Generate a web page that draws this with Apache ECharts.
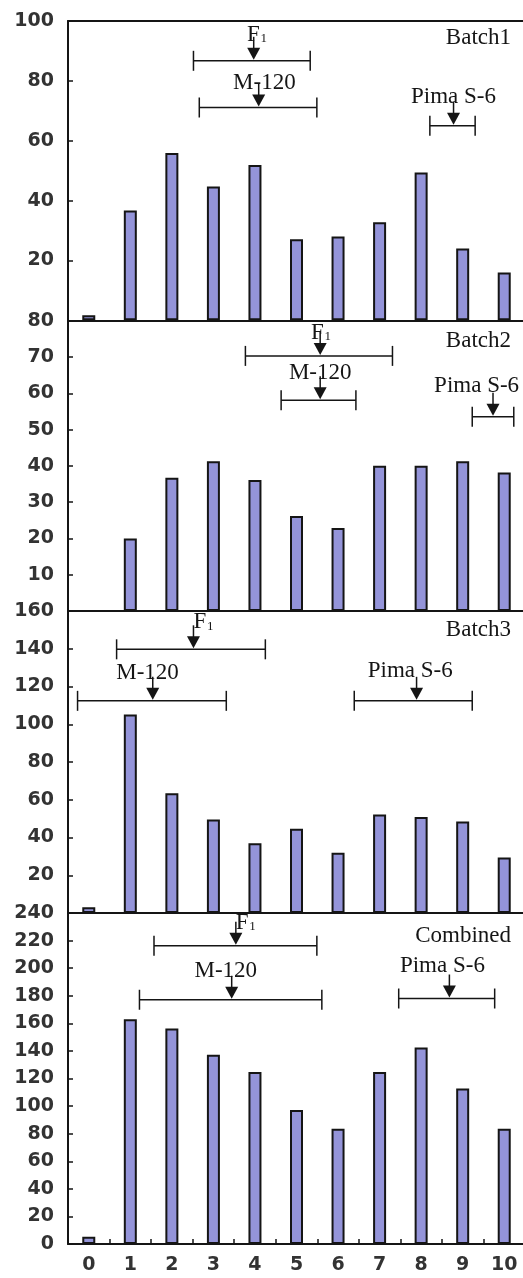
<!DOCTYPE html>
<html>
<head>
<meta charset="utf-8">
<script src="https://cdn.jsdelivr.net/npm/echarts@6/dist/echarts.min.js"></script>
<style>
  html, body { margin: 0; padding: 0; background: #fff; }
  #chart { width: 523px; height: 1278px; }
</style>
</head>
<body>
<div id="chart"></div>
<script>
// classes on the x axis
var categories = ["0", "1", "2", "3", "4", "5", "6", "7", "8", "9", "10"];

// bar heights per panel
var batch1 = [1.7, 36.7, 55.9, 44.7, 51.9, 27.1, 28, 32.8, 49.4, 24, 16];
var batch2 = [null, 20, 36.7, 41.3, 36.1, 26.2, 22.9, 40, 40, 41.3, 38.2];
var batch3 = [3, 105.1, 63.5, 49.5, 37, 44.6, 31.9, 52.2, 50.8, 48.5, 29.4];
var combined = [5.3, 163, 156.3, 137.2, 124.8, 97.2, 83.5, 124.8, 142.5, 112.7, 83.5];

var panelNames = ["Batch1", "Batch2", "Batch3", "Combined"];
var yMax = [100, 80, 160, 240];
var yStep = [20, 10, 20, 20];

// parent / F1 ranges: [low, mean, high, height] in class units
var intervalNames = ["F1", "M-120", "Pima S-6"];
var intervals1 = [[2.52, 3.97, 5.33, 86.7], [2.66, 4.09, 5.49, 71.1], [8.21, 8.78, 9.30, 65]];
var intervals2 = [[3.77, 5.57, 7.31, 70.3], [4.63, 5.57, 6.43, 58.1], [9.23, 9.73, 10.23, 53.5]];
var intervals3 = [[0.67, 2.52, 4.25, 139.7], [-0.27, 1.54, 3.31, 112.4], [6.39, 7.89, 9.23, 112.4]];
var intervals4 = [[1.57, 3.54, 5.49, 216.3], [1.22, 3.44, 5.61, 177.1], [7.46, 8.68, 9.77, 178]];

var bars = [batch1, batch2, batch3, combined];
var intervals = [intervals1, intervals2, intervals3, intervals4];

// layout
var panelTop = [21, 320.7, 611, 913];
var panelHeight = [299.3, 290.3, 302, 331];
var nameDy = [17.3, 19.8, 18.5, 23];
// label offsets from the arrow [dx, dy]
var labelOffsets = [
  [[-6.7, -26], [5.7, -24.7], [0, -29]],
  [[-9.3, -23], [0, -27.5], [-16.4, -31]],
  [[0, -27], [-5.2, -27.7], [-6.3, -30]],
  [[0, -23], [-5.9, -29], [-7, -32.7]]
];

var serif = '"Liberation Serif", "Times New Roman", serif';
var ink = "#151515";

var grids = [], xAxes = [], yAxes = [], series = [], graphics = [];

panelTop.forEach(function (top, i) {
  var last = i === panelTop.length - 1;
  grids.push({ left: 68, width: 457, top: top, height: panelHeight[i],
    containLabel: false, outerBoundsMode: "none" });

  xAxes.push({
    type: "category", gridIndex: i, data: categories, boundaryGap: true,
    axisLine: { show: true, onZero: false, lineStyle: { color: ink, width: 2 } },
    axisTick: { show: last, inside: true, length: 5, interval: 0, lineStyle: { color: ink, width: 1.5 } },
    axisLabel: { show: last, margin: 12, fontSize: 19, fontWeight: "bold",
      fontFamily: "DejaVu Sans", color: "#333", interval: 0 }
  });
  // helper axis for continuous positions of the ranges (also draws the top frame of panel 1)
  xAxes.push({
    type: "value", gridIndex: i, min: -0.5, max: 10.5, position: "top",
    show: i === 0,
    axisLine: { show: true, onZero: false, lineStyle: { color: ink, width: 2 } },
    axisTick: { show: false }, axisLabel: { show: false }, splitLine: { show: false }
  });

  yAxes.push({
    type: "value", gridIndex: i, min: 0, max: yMax[i], interval: yStep[i],
    axisLine: { show: true, onZero: false, lineStyle: { color: ink, width: 2 } },
    axisTick: { show: true, inside: true, length: 5, lineStyle: { color: ink, width: 1.5 } },
    splitLine: { show: false },
    axisLabel: { showMinLabel: last, margin: 14, fontSize: 19, fontWeight: "bold",
      fontFamily: "DejaVu Sans", color: "#333" }
  });

  series.push({
    type: "bar", xAxisIndex: 2 * i, yAxisIndex: i, data: bars[i],
    barWidth: 13,
    itemStyle: { color: "#9494d9", borderColor: ink, borderWidth: 2 },
    silent: true
  });

  series.push({
    type: "custom", xAxisIndex: 2 * i + 1, yAxisIndex: i, data: intervals[i],
    encode: { x: [0, 1, 2], y: 3 }, clip: false, silent: true, z: 5,
    renderItem: function (params, api) {
      var k = params.dataIndex;
      var y = api.value(3);
      var a = api.coord([api.value(0), y]);
      var m = api.coord([api.value(1), y]);
      var b = api.coord([api.value(2), y]);
      var off = labelOffsets[i][k];
      var st = { stroke: ink, lineWidth: 1.5 };
      var kids = [
        { type: "line", shape: { x1: a[0], y1: a[1], x2: b[0], y2: b[1] }, style: st },
        { type: "line", shape: { x1: a[0], y1: a[1] - 10, x2: a[0], y2: a[1] + 10 }, style: st },
        { type: "line", shape: { x1: b[0], y1: b[1] - 10, x2: b[0], y2: b[1] + 10 }, style: st },
        { type: "line", shape: { x1: m[0], y1: m[1] - 24, x2: m[0], y2: m[1] - 11 }, style: st },
        { type: "polygon", shape: { points: [[m[0] - 6.5, m[1] - 13], [m[0] + 6.5, m[1] - 13], [m[0], m[1] - 1]] },
          style: { fill: ink } }
      ];
      var name = intervalNames[k];
      if (name === "F1") {
        kids.push({ type: "text", x: m[0] + off[0], y: m[1] + off[1],
          style: { text: "F", font: "23px " + serif, fill: ink, align: "left", verticalAlign: "middle" } });
        kids.push({ type: "text", x: m[0] + off[0] + 13.5, y: m[1] + off[1] + 4,
          style: { text: "1", font: "13px " + serif, fill: ink, align: "left", verticalAlign: "middle" } });
      } else {
        kids.push({ type: "text", x: m[0] + off[0], y: m[1] + off[1],
          style: { text: name, font: "23px " + serif, fill: ink, align: "center", verticalAlign: "middle" } });
      }
      return { type: "group", children: kids };
    }
  });

  graphics.push({
    type: "text", x: 511, y: top + nameDy[i], z: 10,
    style: { text: panelNames[i], font: "23px " + serif, fill: ink, align: "right", verticalAlign: "middle" }
  });
});

var option = {
  animation: false,
  backgroundColor: "#fff",
  grid: grids,
  xAxis: xAxes,
  yAxis: yAxes,
  series: series,
  graphic: graphics
};

var dom = document.querySelector("#chart");
var myChart = echarts.init(dom, null, { renderer: "canvas" });
myChart.setOption(option, true);
</script>
</body>
</html>
